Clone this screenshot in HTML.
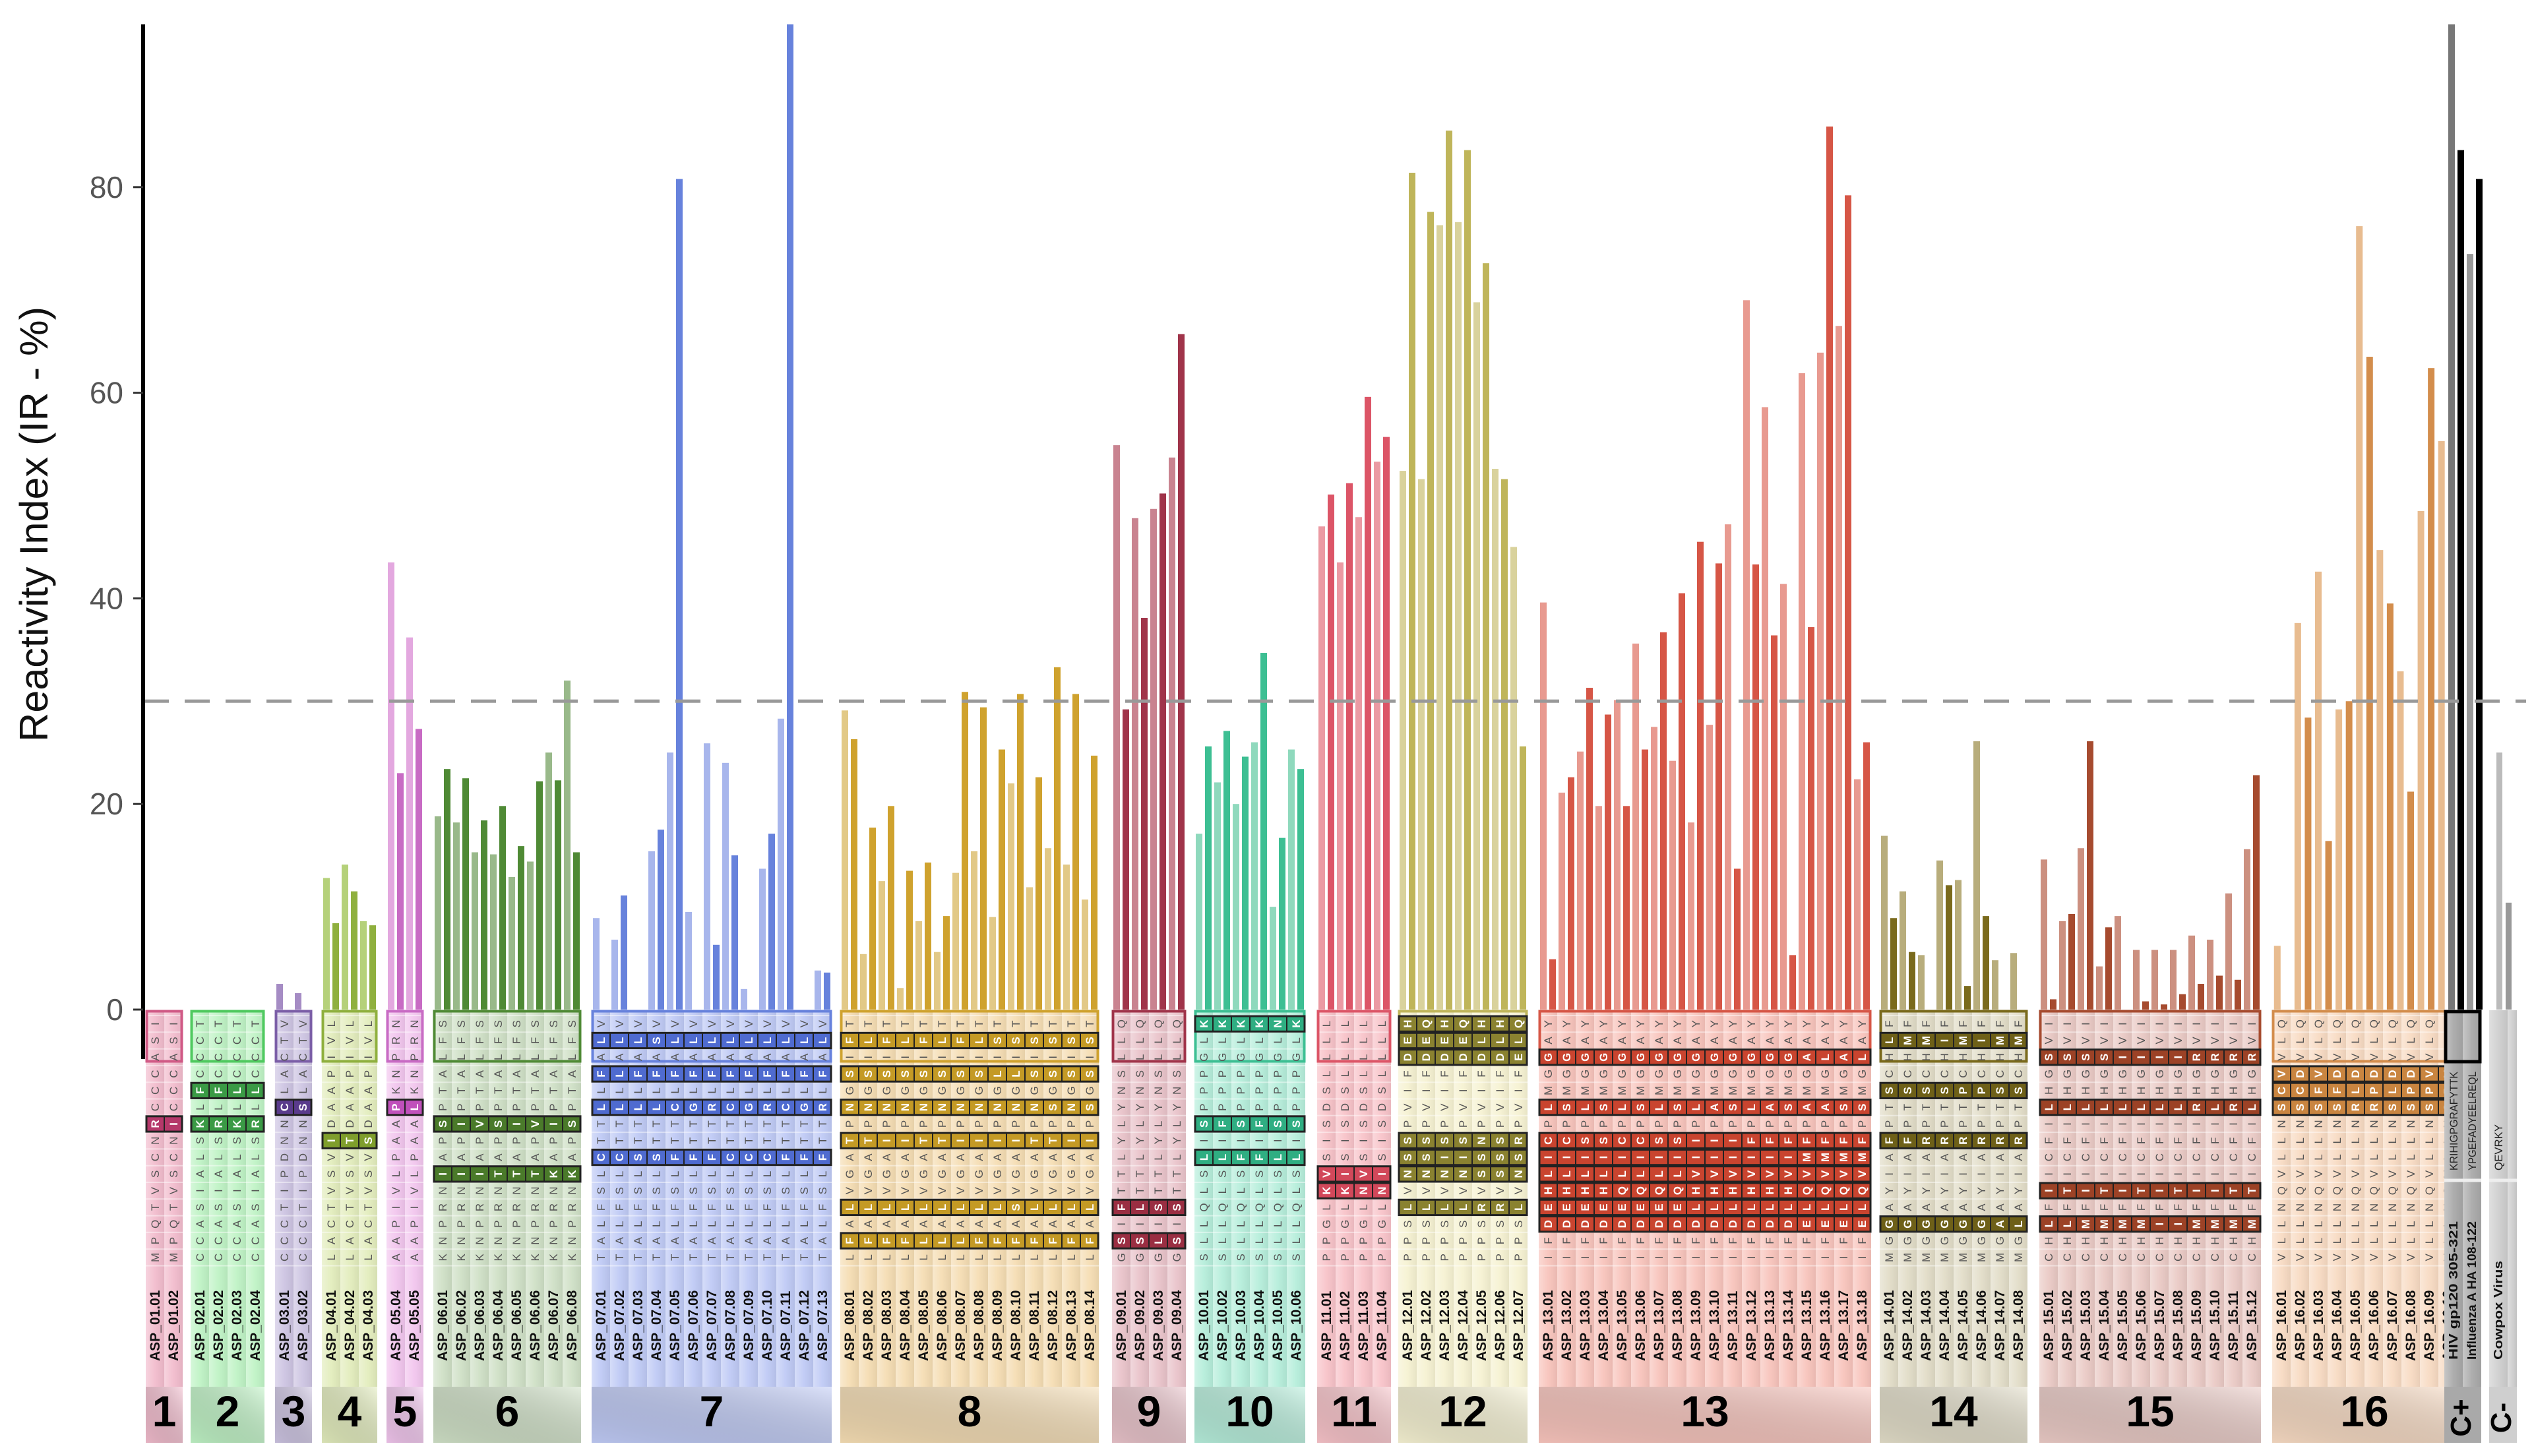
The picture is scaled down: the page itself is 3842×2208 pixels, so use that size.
<!DOCTYPE html>
<html><head><meta charset="utf-8">
<style>
html,body{margin:0;padding:0;background:#fff;}
svg{display:block;font-family:"Liberation Sans",sans-serif;}
</style></head>
<body>
<svg id="chart" width="3842" height="2208" viewBox="0 0 3842 2208" xmlns="http://www.w3.org/2000/svg"></svg>
<script>
// ---------- DATA ----------
const yTicks = [0, 20, 40, 60, 80];
const groupLabels = ["1","2","3","4","5","6","7","8","9","10","11","12","13","14","15","16"];
const groupCols = [2,4,2,3,2,8,13,14,4,6,4,7,18,8,12,10];
const groupPeptideStart = [1,1,1,1,4,1,1,1,1,1,1,1,1,1,1,1];
const vals1 = [0,0,0,0];
const vals2 = [0,0,0,0,0,0,0,0];
const vals3 = [2.5,0,1.6,0];
const vals4 = [12.8,8.4,14.1,11.5,8.6,8.2];
const vals5 = [43.5,23,36.2,27.3];
const vals6 = [18.8,23.4,18.2,22.5,15.3,18.4,15.1,19.8,12.9,15.9,14.4,22.2,25,22.3,32,15.3];
const vals7 = [8.9,0,6.8,11.1,0,0,15.4,17.5,25,80.8,9.5,0,25.9,6.3,24,15,2,0,13.7,17.1,28.3,96,0,0,3.8,3.6];
const vals8 = [29.1,26.3,5.4,17.7,12.5,19.8,2.1,13.5,8.6,14.3,5.6,9.1,13.3,30.9,15.4,29.4,9,25.3,22,30.7,11.9,22.6,15.7,33.3,14.1,30.7,10.7,24.7];
const vals9 = [54.9,29.2,47.8,38.1,48.7,50.2,53.7,65.7];
const vals10 = [17.1,25.6,22.1,27.1,20,24.6,26,34.7,10,16.7,25.3,23.4];
const vals11 = [47,50.1,43.5,51.2,47.9,59.6,53.3,55.7];
const vals12 = [52.4,81.4,51.6,77.6,76.3,85.5,76.6,83.6,68.8,72.6,52.6,51.6,45,25.6];
const vals13 = [39.6,4.9,21.1,22.6,25.1,31.3,19.8,28.7,30.1,19.8,35.6,25.3,27.5,36.7,24.2,40.5,18.2,45.5,27.7,43.4,47.2,13.7,69,43.3,58.6,36.4,41.4,5.3,61.9,37.2,63.9,85.9,66.5,79.2,22.4,26];
const vals14 = [16.9,8.9,11.5,5.6,5.3,0,14.5,12.1,12.6,2.3,26.1,9.1,4.8,0,5.5,0];
const vals15 = [14.6,1,8.6,9.3,15.7,26.1,4.2,8,9.1,0,5.8,0.8,5.8,0.5,5.8,1.5,7.2,2.5,6.8,3.3,11.3,2.9,15.6,22.8];
const vals16 = [6.2,0,37.6,28.4,42.6,16.4,29.2,30,76.2,63.5,44.7,39.5,32.9,21.2,48.5,62.4,55.3,29.4];
const ctrlPosVals = [96,83.6,73.5,80.8];
const ctrlNegVals = [25,10.4];
const threshold = 30;

const seqBase = ["ISACCC?NCSVTQPM","TCCC?L?SLAISACC","VTCAL?NNDPITCCC","LVIPAAD?VSVTCAL","NRPNK?AAPLVIPAA","SFLATP?PA?NRPNK","V?A?L?TT?LSFLAT","T?I?G?P?AGV?A?L","QLLSNYLYLTT?I?G","?LGPPP?I?SLQLLS","LLLLSDSIS??LGPP","???FIVP???V?SPP","YA?GM?P??????FI","F?HC?TP?AIYA?GM","IV?GH?IFCI?F?HC","QLV???NLLVQNLLV"];
const seqVar = [
 {6:"RI"},
 {4:"FFLL",6:"KRKR"},
 {5:"CS"},
 {7:"ITS"},
 {5:"PL"},
 {6:"SIVSIVIS",9:"IIITTTKK"},
 {1:"LLLSLLLLLLLLL",3:"FLFFFFFFFFFFF",5:"LLLLCGRCGRCGR",8:"CCSSFFFCCCFFF"},
 {1:"FLFLFLFLSSSSSS",3:"SSSSSSSSLLSSSS",5:"NNNNNNNNNNNSNS",7:"TTIITTIIIITTII",11:"LLLLLLLLLSLLLL",13:"FFFFLLLFFFFFFF"},
 {11:"FLSS",13:"SSLS"},
 {0:"KKKKNK",6:"SFSFSS",8:"LLFFLL"},
 {9:"VIVI",10:"KKNN"},
 {0:"HQHQHHQ",1:"EEEELLL",2:"DDDDDDE",7:"SSSSNSR",8:"SSIISSS",9:"NNNNSSN",11:"LLLLRRL"},
 {2:"GGGGGGGGGGGGGGALAL",5:"LSLSLSLSLASLASAASS",7:"CCSSCCSSIIIFFFFFFF",8:"IIIIIIIIIIIIIIMMMM",9:"LLLLLLLLVVVVVVVVVV",10:"HHHHQQQQHHHHHHQQQQ",11:"EEEEEEEELLLLLLLLLL",12:"DDDDDDDDDDDDDDEEEE"},
 {1:"LMMIMIMM",4:"SSSSPPSS",7:"FFRRRRRR",12:"GGGGGGAL"},
 {2:"SSSSIIIIRRRR",5:"LLLLLLLLRLRL",10:"ITITITITIITT",12:"LLMMMMIIMMMM"},
 {3:"VDVDDDDDVV",4:"CCFFLPLPPP",5:"SSSSRRSSSS"}
];
const colorsDark = ["#d05a86","#4fc95f","#7b5ea7","#8fb03e","#c86bc4","#4f8a35","#6782dc","#cfa22e","#a0344a","#3dbf93","#dc5567","#bfb55a","#d65646","#7a6a1c","#a64b2f","#d38d4c"];
const colorsLight = ["#e8a0b8","#9ee6a6","#a58cc4","#b5d17a","#e3a8df","#99b98a","#a8b6ec","#e2c987","#c98390","#8fd9bd","#eb9aa3","#d9d29c","#e89a90","#b8ad7c","#cc9080","#e8bc90"];
const colorsBg = ["#f2bccd","#bff3c5","#cdc4e2","#e3edbd","#f2c6ee","#cfe0c6","#bfcaf5","#f5ddb3","#e9c3ca","#b6eedb","#f8c3c9","#f6f2d2","#f8c4bc","#e2ddc8","#eacac5","#f8dbc3"];
const highlightFill = ["#b5386a","#3a9a45","#5a3b8c","#7f9e2c","#c050bb","#4a7a2a","#4f6bd0","#c49a25","#9a2e42","#2fae82","#d2485a","#8a8230","#c9442f","#6e6018","#9c4226","#c98540"];

const svg = document.getElementById('chart');
const NS = 'http://www.w3.org/2000/svg';
const Y0 = 1531, PPU = 15.59, YTOP = 37;
const COLW = 28;
const groupStart = [221,289,417,488,586,657,897,1274,1686,1811,1997,2120,2333,2850,3092,3445];
const allVals = [vals1,vals2,vals3,vals4,vals5,vals6,vals7,vals8,vals9,vals10,vals11,vals12,vals13,vals14,vals15,vals16];
function yScale(v){ return Math.max(YTOP, Y0 - v*PPU); }
function mk(tag, attrs, parent){
  const e = document.createElementNS(NS, tag);
  for (const k in attrs) e.setAttribute(k, attrs[k]);
  (parent||svg).appendChild(e);
  return e;
}
const SEQ_TOP = 1532, ROW_TOP = 1540, RH = 25.3, SEQ_END = 1931, LAB_END = 2103, NUM_END = 2188;

const defs = mk('defs', {});
const lg = mk('linearGradient', {id:'colShade', x1:'0', y1:'0', x2:'1', y2:'0'}, defs);
mk('stop', {offset:'0', 'stop-color':'#fff', 'stop-opacity':'0.35'}, lg);
mk('stop', {offset:'0.5', 'stop-color':'#fff', 'stop-opacity':'0.05'}, lg);
mk('stop', {offset:'1', 'stop-color':'#000', 'stop-opacity':'0.06'}, lg);
const lg2 = mk('linearGradient', {id:'numShade', x1:'0', y1:'1', x2:'1', y2:'0'}, defs);
mk('stop', {offset:'0', 'stop-color':'#000', 'stop-opacity':'0.05'}, lg2);
mk('stop', {offset:'1', 'stop-color':'#fff', 'stop-opacity':'0.45'}, lg2);

for (let g=0; g<groupCols.length; g++){
  const x0 = groupStart[g], n = groupCols[g], w = n*COLW;
  const G = mk('g', {});
  
  
  mk('rect', {x:x0, y:SEQ_TOP, width:w, height:NUM_END-SEQ_TOP, fill:colorsBg[g]}, G);
  for (let c=0;c<n;c++){
    mk('rect', {x:x0+c*COLW, y:SEQ_TOP, width:COLW, height:LAB_END-SEQ_TOP, fill:'url(#colShade)'}, G);
  }
  for (let r=0;r<=15;r++){
    mk('line', {x1:x0, x2:x0+w, y1:ROW_TOP+r*RH, y2:ROW_TOP+r*RH, stroke:'#fff', 'stroke-opacity':'0.45', 'stroke-width':2}, G);
  }
  mk('rect', {x:x0, y:LAB_END, width:w, height:NUM_END-LAB_END, fill:'url(#numShade)'}, G);
  mk('rect', {x:x0+1.5, y:SEQ_TOP+1.5, width:w-3, height:76, fill:'none', stroke:colorsDark[g], 'stroke-width':4}, G);
  const vr = seqVar[g];
  for (const rk in vr){
    const r = +rk;
    mk('rect', {x:x0+1, y:ROW_TOP+r*RH+1, width:w-2, height:RH-2, fill:highlightFill[g], stroke:'#222', 'stroke-width':3}, G);
    for (let c=1;c<n;c++) mk('line', {x1:x0+c*COLW, x2:x0+c*COLW, y1:ROW_TOP+r*RH+1, y2:ROW_TOP+(r+1)*RH-1, stroke:'#222','stroke-width':2}, G);
  }
  for (let c=0;c<n;c++){
    for (let r=0;r<15;r++){
      let ch = seqBase[g][r];
      let hl = false;
      if (vr[r] !== undefined){ ch = vr[r][c] || vr[r][vr[r].length-1]; hl = true; }
      const cx = x0 + c*COLW + COLW/2, cy = ROW_TOP + r*RH + RH/2;
      const t = mk('text', {x:cx, y:cy+6, 'font-size':17, 'text-anchor':'middle', fill: hl ? '#fff' : '#555', 'font-weight': hl?'bold':'normal', transform:`rotate(-90 ${cx} ${cy})`}, G);
      t.textContent = ch;
    }
    const lx = x0 + c*COLW + COLW/2 + 7, ly = 2064;
    const lab = mk('text', {x:lx, y:ly, 'font-size':21, 'font-weight':'bold', fill:'#111', transform:`rotate(-90 ${lx} ${ly})`}, G);
    
    
    const pn = groupPeptideStart[g] + c;
    lab.textContent = 'ASP_' + String(g+1).padStart(2,'0') + '.' + String(pn).padStart(2,'0');
  }
  const num = mk('text', {x:x0+w/2, y:2163, 'font-size':66, 'font-weight':'bold', 'text-anchor':'middle', fill:'#000'}, G);
  
  
  num.textContent = groupLabels[g];
}

function ctrlPanel(x0, ncols, bg, border, seqs, names, label, key){
  const w = ncols*COLW;
  const G = mk('g', {});
  
  
  mk('rect', {x:x0, y:SEQ_TOP, width:w, height:NUM_END-SEQ_TOP, fill:bg}, G);
  for (let c=0;c<Math.ceil(ncols);c++) mk('rect', {x:x0+c*COLW, y:SEQ_TOP, width:Math.min(COLW, w-c*COLW), height:LAB_END-SEQ_TOP, fill:'url(#colShade)'}, G);
  mk('line', {x1:x0, x2:x0+w, y1:1790, y2:1790, stroke:'#eee', 'stroke-width':5}, G);
  if (border) mk('rect', {x:x0+2, y:SEQ_TOP+2, width:w-4, height:76, fill:'none', stroke:border, 'stroke-width':5}, G);
  for (let c=0;c<seqs.length;c++){
    const cx = x0 + c*COLW + COLW/2 + 6;
    const len1 = seqs[c].length > 8 ? 150 : 70;
    const t = mk('text', {x:cx, y:1775, 'font-size':17, fill:'#222', textLength:len1, lengthAdjust:'spacingAndGlyphs', transform:`rotate(-90 ${cx} 1775)`}, G);
    t.textContent = seqs[c];
    const len2 = names[c].length > 13 ? 210 : 150;
    const t2 = mk('text', {x:cx, y:2062, 'font-size':18, 'font-weight':'bold', fill:'#111', textLength:len2, lengthAdjust:'spacingAndGlyphs', transform:`rotate(-90 ${cx} 2062)`}, G);
    t2.textContent = names[c];
  }
  const cx = x0 + w/2 + 12;
  const nm = mk('text', {x:cx, y:2150, 'font-size':44, 'font-weight':'bold', 'text-anchor':'middle', fill:'#000', transform:`rotate(-90 ${cx} 2150)`}, G);
  nm.textContent = label;
}
ctrlPanel(3706, 2, '#a9a9a9', '#000', ['KRIHIGPGRAFYTTK','YPGEFADYEELREQL'], ['HIV gp120 305-321','Influenza A HA 108-122'], 'C+', 'positive-control');
ctrlPanel(3774, 1.5, '#cfcfcf', null, ['QEVRKY'], ['Cowpox Virus'], 'C-', 'negative-control');

for (let g=0; g<allVals.length; g++){
  const v = allVals[g], n = v.length, x0 = groupStart[g], w = groupCols[g]*COLW;
  const slot = w / n;
  for (let i=0;i<n;i++){
    if (v[i] <= 0) continue;
    const y = yScale(v[i]);
    const bw = Math.min(10, slot*0.72);
    const r = mk('rect', {x: x0 + (i+0.5)*slot - bw/2, y: y, width: bw, height: Y0 - y, fill: (i%2===0) ? colorsLight[g] : colorsDark[g]});
    
    
  }
}
const ctrlColorsPos = ['#777','#000','#999','#000'];
for (let i=0;i<ctrlPosVals.length;i++){
  const y = yScale(ctrlPosVals[i]);
  const r = mk('rect', {x: 3710 + (i+0.5)*14 - 5, y:y, width:10, height:Y0-y, fill:ctrlColorsPos[i]});
  
  
}
const ctrlColorsNeg = ['#bbb','#999'];
for (let i=0;i<ctrlNegVals.length;i++){
  const y = yScale(ctrlNegVals[i]);
  const r = mk('rect', {x: 3776 + 9 + i*14, y:y, width:9, height:Y0-y, fill:ctrlColorsNeg[i]});
  
  
}

const th = mk('line', {x1:218, x2:3830, y1:yScale(threshold), y2:yScale(threshold), stroke:'#999', 'stroke-width':5, 'stroke-dasharray':'38 24'});



const ax = mk('line', {x1:217, x2:217, y1:37, y2:1606, stroke:'#000', 'stroke-width':6});


for (const t of yTicks){
  const y = yScale(t);
  const tk = mk('line', {x1:202, x2:217, y1:y, y2:y, stroke:'#333', 'stroke-width':3});
  
  
  const tl = mk('text', {x:187, y:y+16, 'font-size':46, 'text-anchor':'end', fill:'#555'});
  
  
  tl.textContent = t;
}
const title = mk('text', {x:72, y:795, 'font-size':60, 'text-anchor':'middle', fill:'#111', textLength:660, lengthAdjust:'spacingAndGlyphs', transform:'rotate(-90 72 795)'});


title.textContent = 'Reactivity Index (IR - %)';
</script>
</body></html>
